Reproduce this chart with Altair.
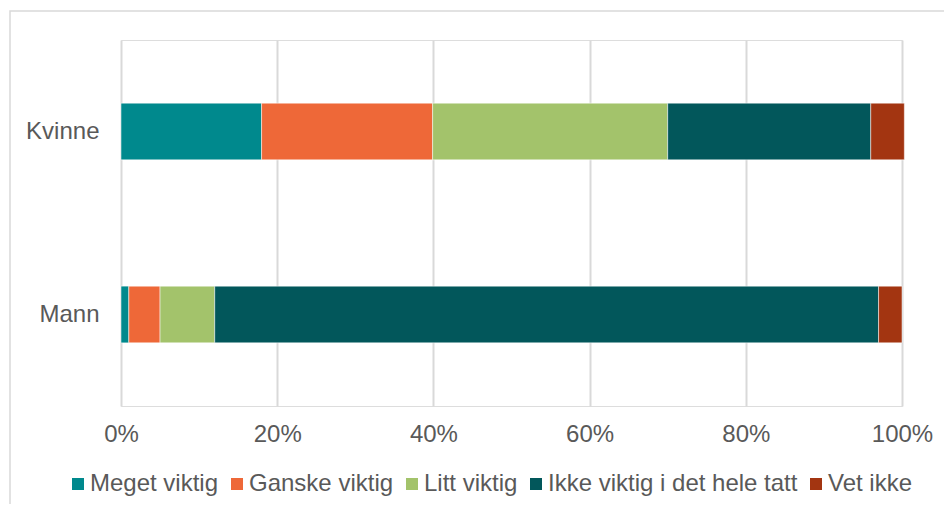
import altair as alt
import pandas as pd

groups = ["Kvinne", "Mann"]
categories = ["Meget viktig", "Ganske viktig", "Litt viktig", "Ikke viktig i det hele tatt", "Vet ikke"]
colors = ["#00898D", "#EE6838", "#A3C36B", "#02575B", "#A33511"]
kvinne = [18.0, 21.9, 30.1, 26.0, 4.3]
mann = [1.0, 4.0, 7.0, 85.0, 3.0]
x_ticks = [0, 0.2, 0.4, 0.6, 0.8, 1.0]

rows = []
for g, vals in zip(groups, [kvinne, mann]):
    for i, (c, v) in enumerate(zip(categories, vals)):
        rows.append({"gruppe": g, "kategori": c, "andel": v / 100, "rekkefolge": i})
df = pd.DataFrame(rows)

FONT = "Liberation Sans"
TXT = "#595959"
GRID = "#D9D9D9"
FS = 24

bars = alt.Chart(df).mark_bar(stroke="#ffffff", strokeWidth=0.5).encode(
    y=alt.Y(
        "gruppe:N",
        sort=groups,
        title=None,
        scale=alt.Scale(paddingInner=0.69, paddingOuter=0.345),
        axis=alt.Axis(domain=False, ticks=False, labelPadding=22, labelFontSize=FS,
                      labelColor=TXT, labelFont=FONT, grid=False),
    ),
    x=alt.X(
        "andel:Q",
        stack="zero",
        title=None,
        scale=alt.Scale(domain=[0, 1], nice=False, clamp=False),
        axis=alt.Axis(values=x_ticks, format=".0%", domain=False, ticks=False,
                      labelFlush=False, labelPadding=16, labelFontSize=FS,
                      labelColor=TXT, labelFont=FONT,
                      grid=True, gridColor=GRID, gridWidth=2),
    ),
    color=alt.Color(
        "kategori:N",
        scale=alt.Scale(domain=categories, range=colors),
        title=None,
        legend=alt.Legend(orient="none", direction="horizontal", legendX=-55, legendY=432,
                          symbolType="square", symbolSize=144, symbolStrokeWidth=0,
                          labelFontSize=FS, labelColor=TXT, labelFont=FONT,
                          labelOffset=0, columnPadding=6, padding=0, labelLimit=400),
    ),
    order=alt.Order("rekkefolge:Q", sort="ascending"),
)

border = alt.Chart(pd.DataFrame({"k": [0]})).mark_rect(
    fill=None, stroke=GRID, strokeWidth=1.5
).encode(
    x=alt.value(-111), x2=alt.value(836), y=alt.value(-29), y2=alt.value(473)
)

chart = alt.layer(border, bars).properties(
    width=781,
    height=366,
    autosize=alt.AutoSizeParams(type="none"),
    padding={"left": 113, "top": 32, "right": 42, "bottom": 98},
).configure_view(stroke=None).configure(background="#ffffff")

chart.save("out.html", embed_options={"renderer": "svg", "actions": False})
